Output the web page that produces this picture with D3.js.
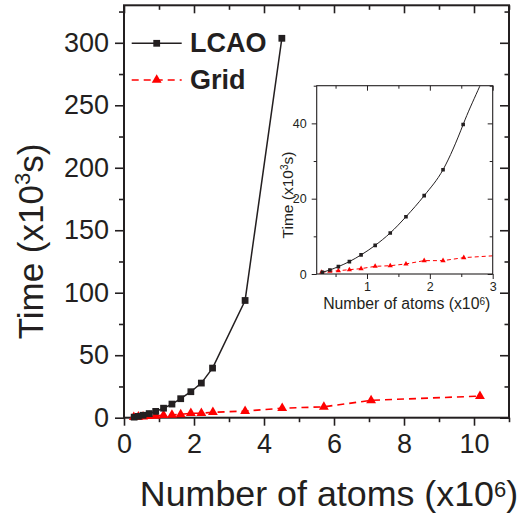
<!DOCTYPE html>
<html>
<head>
<meta charset="utf-8">
<script src="https://cdn.jsdelivr.net/npm/d3@7"></script>
<style>
  html, body { margin: 0; padding: 0; background: #fff; }
  svg { display: block; font-family: "Liberation Sans", Arial, Helvetica, sans-serif; }
</style>
</head>
<body>
<svg id="chart" width="526" height="519"></svg>
<script>
// Run time vs. system size for the two methods (atoms in 10^6, time in 10^3 s)
const lcaoAtoms = [0.29, 0.41, 0.545, 0.72, 0.906, 1.13, 1.37, 1.62, 1.91, 2.21, 2.53, 3.46, 4.51];
const lcaoTime  = [0.45, 1.07, 1.96, 3.3, 5.07, 7.6, 10.9, 15.2, 20.8, 27.7, 39.7, 93.8, 303.6];
const gridAtoms = [0.28, 0.41, 0.545, 0.72, 0.906, 1.13, 1.37, 1.62, 1.91, 2.21, 2.54, 3.46, 4.52, 5.71, 7.06, 10.17];
const gridTime  = [0.45, 0.72, 0.88, 1.15, 1.42, 2.04, 2.2, 2.67, 3.55, 3.55, 4.35, 5.3, 7.6, 8.7, 13.9, 17.3];

const seriesNames = ["LCAO", "Grid"];
const mainXTicks = [0, 2, 4, 6, 8, 10];
const mainXMinor = [1, 3, 5, 7, 9, 11];
const mainYTicks = [0, 50, 100, 150, 200, 250, 300];
const mainYMinor = [25, 75, 125, 175, 225, 275, 325];
const insetXTicks = [1, 2, 3];
const insetXMinor = [0.5, 1.5, 2.5];
const insetYTicks = [0, 20, 40];
const insetYMinor = [10, 30, 50];

const lcao = lcaoAtoms.map((a, i) => ({ x: a, y: lcaoTime[i] }));
const grid = gridAtoms.map((a, i) => ({ x: a, y: gridTime[i] }));

const INK = "#231f20";
const RED = "#ff0000";

const svg = d3.select("#chart");

// ---------- main panel ----------
const x = d3.scaleLinear().domain([0, 11]).range([124, 509]);
const y = d3.scaleLinear().domain([0, 330]).range([417.7, 5.3]);

function styleAxis(g, fontSize) {
  g.select(".domain").remove();
  g.selectAll(".tick line").attr("stroke", INK).attr("stroke-width", 1.6);
  g.selectAll(".tick text").attr("fill", INK).attr("font-size", fontSize)
    .attr("font-family", "Liberation Sans, Arial, sans-serif");
}

// left (outward, labelled)
svg.append("g").attr("transform", `translate(${x(0)},0)`)
  .call(d3.axisLeft(y).tickValues(mainYTicks).tickSize(9).tickPadding(6).tickFormat(d3.format("d")))
  .call(g => styleAxis(g, 27));
svg.append("g").attr("transform", `translate(${x(0)},0)`)
  .call(d3.axisLeft(y).tickValues(mainYMinor).tickSize(5).tickFormat(""))
  .call(g => styleAxis(g, 27));
// bottom (outward, labelled)
svg.append("g").attr("transform", `translate(0,${y(0)})`)
  .call(d3.axisBottom(x).tickValues(mainXTicks).tickSize(8).tickPadding(8).tickFormat(d3.format("d")))
  .call(g => styleAxis(g, 27));
svg.append("g").attr("transform", `translate(0,${y(0)})`)
  .call(d3.axisBottom(x).tickValues(mainXMinor).tickSize(4.5).tickFormat(""))
  .call(g => styleAxis(g, 27));
// right (inward)
svg.append("g").attr("transform", `translate(${x(11)},0)`)
  .call(d3.axisLeft(y).tickValues(mainYTicks).tickSize(9).tickFormat(""))
  .call(g => styleAxis(g, 27));
svg.append("g").attr("transform", `translate(${x(11)},0)`)
  .call(d3.axisLeft(y).tickValues(mainYMinor.filter(v => v < 330)).tickSize(4.5).tickFormat(""))
  .call(g => styleAxis(g, 27));
// top (inward)
svg.append("g").attr("transform", `translate(0,${y(330)})`)
  .call(d3.axisBottom(x).tickValues(mainXTicks).tickSize(8).tickFormat(""))
  .call(g => styleAxis(g, 27));
svg.append("g").attr("transform", `translate(0,${y(330)})`)
  .call(d3.axisBottom(x).tickValues(mainXMinor).tickSize(4.5).tickFormat(""))
  .call(g => styleAxis(g, 27));

// frame
svg.append("rect")
  .attr("x", x(0)).attr("y", y(330))
  .attr("width", x(11) - x(0)).attr("height", y(0) - y(330))
  .attr("fill", "none").attr("stroke", INK).attr("stroke-width", 2);

// axis titles
const xTitle = svg.append("text")
  .attr("x", 329).attr("y", 506)
  .attr("text-anchor", "middle").attr("font-size", 35.8).attr("fill", INK);
xTitle.append("tspan").text("Number of atoms (x10");
xTitle.append("tspan").attr("font-size", 22).attr("dy", -9.5).text("6");
xTitle.append("tspan").attr("dy", 9.5).text(")");

const yTitle = svg.append("text")
  .attr("transform", "translate(43,241.5) rotate(-90)")
  .attr("text-anchor", "middle").attr("font-size", 35).attr("fill", INK);
yTitle.append("tspan").text("Time (x10");
yTitle.append("tspan").attr("font-size", 22).attr("dy", -13).text("3");
yTitle.append("tspan").attr("dy", 13).text("s)");

// main data
const lineMain = d3.line().x(d => x(d.x)).y(d => y(d.y));
svg.append("path").datum(lcao).attr("d", lineMain)
  .attr("fill", "none").attr("stroke", INK).attr("stroke-width", 1.5);
svg.append("path").datum(grid).attr("d", lineMain)
  .attr("fill", "none").attr("stroke", RED).attr("stroke-width", 1.6)
  .attr("stroke-dasharray", "7,5");

const sqMain = d3.symbol().type(d3.symbolSquare).size(46);
const triMain = d3.symbol().type(d3.symbolTriangle).size(42);
svg.append("g").selectAll("path").data(grid).join("path")
  .attr("transform", d => `translate(${x(d.x)},${y(d.y)})`)
  .attr("d", triMain).attr("fill", RED);
svg.append("g").selectAll("path").data(lcao).join("path")
  .attr("transform", d => `translate(${x(d.x)},${y(d.y)})`)
  .attr("d", sqMain).attr("fill", INK);

// legend
const legend = svg.append("g");
const legendRows = [
  { name: seriesNames[0], y: 43.3, color: INK, dash: null, sym: sqMain },
  { name: seriesNames[1], y: 80, color: RED, dash: "7,5", sym: triMain }
];
legendRows.forEach(r => {
  legend.append("line").attr("x1", 131.7).attr("x2", 181.7).attr("y1", r.y).attr("y2", r.y)
    .attr("stroke", r.color).attr("stroke-width", 1.5).attr("stroke-dasharray", r.dash);
  legend.append("path").attr("transform", `translate(156.7,${r.y})`).attr("d", r.sym).attr("fill", r.color);
  legend.append("text").attr("x", 190).attr("y", r.y + 8.5)
    .attr("font-size", 27).attr("font-weight", "bold").attr("fill", INK).text(r.name);
});

// ---------- inset ----------
const ix = d3.scaleLinear().domain([0.2, 3]).range([316.7, 492.7]);
const iy = d3.scaleLinear().domain([0, 50]).range([274, 85.7]);

svg.append("rect")
  .attr("x", ix(0.2)).attr("y", iy(50))
  .attr("width", ix(3) - ix(0.2)).attr("height", iy(0) - iy(50))
  .attr("fill", "#fff");

svg.append("clipPath").attr("id", "inset-clip").append("rect")
  .attr("x", ix(0.2)).attr("y", iy(50))
  .attr("width", ix(3) - ix(0.2)).attr("height", iy(0) - iy(50));

function styleInset(g) {
  g.select(".domain").remove();
  g.selectAll(".tick line").attr("stroke", INK).attr("stroke-width", 1);
  g.selectAll(".tick text").attr("fill", INK).attr("font-size", 12.5)
    .attr("font-family", "Liberation Sans, Arial, sans-serif");
}
svg.append("g").attr("transform", `translate(${ix(0.2)},0)`)
  .call(d3.axisLeft(iy).tickValues(insetYTicks).tickSize(5).tickPadding(5).tickFormat(d3.format("d")))
  .call(styleInset);
svg.append("g").attr("transform", `translate(${ix(0.2)},0)`)
  .call(d3.axisLeft(iy).tickValues(insetYMinor).tickSize(3).tickFormat(""))
  .call(styleInset);
svg.append("g").attr("transform", `translate(0,${iy(0)})`)
  .call(d3.axisBottom(ix).tickValues(insetXTicks).tickSize(5).tickPadding(3).tickFormat(d3.format("d")))
  .call(styleInset);
svg.append("g").attr("transform", `translate(0,${iy(0)})`)
  .call(d3.axisBottom(ix).tickValues(insetXMinor).tickSize(3).tickFormat(""))
  .call(styleInset);
svg.append("g").attr("transform", `translate(${ix(3)},0)`)
  .call(d3.axisLeft(iy).tickValues(insetYTicks).tickSize(5).tickFormat(""))
  .call(styleInset);
svg.append("g").attr("transform", `translate(${ix(3)},0)`)
  .call(d3.axisLeft(iy).tickValues(insetYMinor).tickSize(3).tickFormat(""))
  .call(styleInset);
svg.append("g").attr("transform", `translate(0,${iy(50)})`)
  .call(d3.axisBottom(ix).tickValues(insetXTicks).tickSize(5).tickFormat(""))
  .call(styleInset);
svg.append("g").attr("transform", `translate(0,${iy(50)})`)
  .call(d3.axisBottom(ix).tickValues(insetXMinor).tickSize(3).tickFormat(""))
  .call(styleInset);

const insetData = svg.append("g").attr("clip-path", "url(#inset-clip)");
const lineInsetSmooth = d3.line().curve(d3.curveMonotoneX).x(d => ix(d.x)).y(d => iy(d.y));
const lineInset = d3.line().x(d => ix(d.x)).y(d => iy(d.y));
insetData.append("path").datum(grid).attr("d", lineInset)
  .attr("fill", "none").attr("stroke", RED).attr("stroke-width", 1)
  .attr("stroke-dasharray", "4,3");
insetData.append("path").datum(lcao).attr("d", lineInsetSmooth)
  .attr("fill", "none").attr("stroke", INK).attr("stroke-width", 1);
const sqInset = d3.symbol().type(d3.symbolSquare).size(13);
const triInset = d3.symbol().type(d3.symbolTriangle).size(12);
insetData.append("g").selectAll("path").data(grid).join("path")
  .attr("transform", d => `translate(${ix(d.x)},${iy(d.y)})`)
  .attr("d", triInset).attr("fill", RED);
insetData.append("g").selectAll("path").data(lcao).join("path")
  .attr("transform", d => `translate(${ix(d.x)},${iy(d.y)})`)
  .attr("d", sqInset).attr("fill", INK);

svg.append("rect")
  .attr("x", ix(0.2)).attr("y", iy(50))
  .attr("width", ix(3) - ix(0.2)).attr("height", iy(0) - iy(50))
  .attr("fill", "none").attr("stroke", INK).attr("stroke-width", 1.1);

const ixTitle = svg.append("text")
  .attr("x", 406.7).attr("y", 309)
  .attr("text-anchor", "middle").attr("font-size", 15.8).attr("fill", INK);
ixTitle.append("tspan").text("Number of atoms (x10");
ixTitle.append("tspan").attr("font-size", 10).attr("dy", -4.5).text("6");
ixTitle.append("tspan").attr("dy", 4.5).text(")");

const iyTitle = svg.append("text")
  .attr("transform", "translate(293,195) rotate(-90)")
  .attr("text-anchor", "middle").attr("font-size", 15.5).attr("fill", INK);
iyTitle.append("tspan").text("Time (x10");
iyTitle.append("tspan").attr("font-size", 10).attr("dy", -5.5).text("3");
iyTitle.append("tspan").attr("dy", 5.5).text("s)");
</script>
</body>
</html>
